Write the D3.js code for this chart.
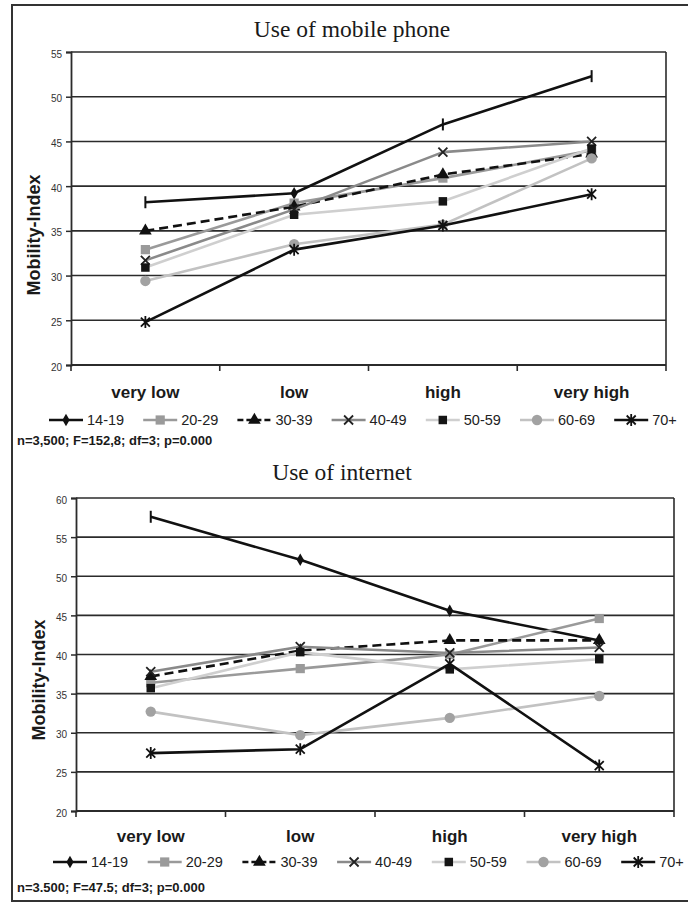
<!DOCTYPE html>
<html>
<head>
<meta charset="utf-8">
<script src="https://cdn.jsdelivr.net/npm/d3@7"></script>
<style>
  html, body { margin: 0; padding: 0; background: #fff; }
  svg { display: block; }
</style>
</head>
<body>
<svg id="chart" width="688" height="903"></svg>
<script>
// Categories (x axis) and age groups (series)
const categories = ["very low", "low", "high", "very high"];
const ageGroups = ["14-19", "20-29", "30-39", "40-49", "50-59", "60-69", "70+"];

// Mobility-Index by intensity of mobile phone use
const phone_14_19 = [38.2, 39.2, 46.9, 52.3];
const phone_20_29 = [32.9, 38.1, 40.9, 44.0];
const phone_30_39 = [35.0, 37.7, 41.3, 43.6];
const phone_40_49 = [31.7, 37.4, 43.8, 45.0];
const phone_50_59 = [30.9, 36.8, 38.3, 44.2];
const phone_60_69 = [29.4, 33.5, 35.7, 43.1];
const phone_70plus = [24.8, 32.9, 35.6, 39.1];

// Mobility-Index by intensity of internet use
const web_14_19 = [57.6, 52.1, 45.6, 41.8];
const web_20_29 = [36.4, 38.2, 40.0, 44.6];
const web_30_39 = [37.2, 40.5, 41.8, 41.8];
const web_40_49 = [37.8, 41.0, 40.2, 40.9];
const web_50_59 = [35.7, 40.3, 38.1, 39.4];
const web_60_69 = [32.7, 29.7, 31.9, 34.7];
const web_70plus = [27.4, 27.9, 38.8, 25.8];

const phoneTicks = [20, 25, 30, 35, 40, 45, 50, 55];
const webTicks = [20, 25, 30, 35, 40, 45, 50, 55, 60];

const phoneTitle = "Use of mobile phone";
const webTitle = "Use of internet";
const phoneNote = "n=3,500; F=152,8; df=3; p=0.000";
const webNote = "n=3.500; F=47.5; df=3;  p=0.000";
const yTitle = "Mobility-Index";

// Per-series look: line colour, dash, marker shape and marker fill
const seriesStyle = [
  { line: "#111", dash: null,  marker: "diamond",  fill: "#111" },
  { line: "#9a9a9a", dash: null, marker: "square", fill: "#9a9a9a" },
  { line: "#111", dash: "9,5", marker: "triangle", fill: "#111" },
  { line: "#8a8a8a", dash: null, marker: "x",      fill: "#222" },
  { line: "#cfcfcf", dash: null, marker: "bsquare", fill: "#151515" },
  { line: "#c2c2c2", dash: null, marker: "circle",  fill: "#a2a2a2" },
  { line: "#111", dash: null,  marker: "star",     fill: "#111" }
];

const svg = d3.select("#chart");
const SANS = "'Liberation Sans', Arial, sans-serif";
const SERIF = "'Liberation Serif', 'Times New Roman', serif";

// outer frame (right edge runs off the page)
svg.append("rect")
  .attr("x", 12).attr("y", 5).attr("width", 700).attr("height", 896)
  .attr("fill", "none").attr("stroke", "#333").attr("stroke-width", 2);

function drawMarker(g, shape, fill) {
  switch (shape) {
    case "diamond":
      g.append("path").attr("d", d3.symbol(d3.symbolDiamond, 45)()).attr("fill", fill);
      break;
    case "bar":
      g.append("line").attr("x1", 0).attr("x2", 0).attr("y1", -6).attr("y2", 6)
        .attr("stroke", fill).attr("stroke-width", 2);
      break;
    case "square":
      g.append("path").attr("d", d3.symbol(d3.symbolSquare, 85)()).attr("fill", fill);
      break;
    case "bsquare":
      g.append("path").attr("d", d3.symbol(d3.symbolSquare, 72)()).attr("fill", fill);
      break;
    case "triangle":
      g.append("path").attr("d", d3.symbol(d3.symbolTriangle, 70)()).attr("fill", fill);
      break;
    case "circle":
      g.append("path").attr("d", d3.symbol(d3.symbolCircle, 85)()).attr("fill", fill);
      break;
    case "x":
      g.append("path").attr("d", "M-4.5,-4.5L4.5,4.5M-4.5,4.5L4.5,-4.5")
        .attr("stroke", fill).attr("stroke-width", 1.8).attr("fill", "none");
      break;
    case "star":
      g.append("path").attr("d", "M-4.5,-4.5L4.5,4.5M-4.5,4.5L4.5,-4.5M0,-6L0,6")
        .attr("stroke", fill).attr("stroke-width", 1.8).attr("fill", "none");
      break;
  }
}

function drawPanel(cfg) {
  const g = svg.append("g");
  const x = d3.scaleBand().domain(categories).range([cfg.x0, cfg.x1]);
  const y = d3.scaleLinear().domain([cfg.ticks[0], cfg.ticks[cfg.ticks.length - 1]]).range([cfg.y1, cfg.y0]);

  // title
  g.append("text").attr("x", cfg.titleX).attr("y", cfg.titleY)
    .attr("text-anchor", "middle").attr("font-family", SERIF)
    .attr("font-size", 23.5).attr("fill", "#1a1a1a").text(cfg.title);

  // horizontal gridlines
  g.selectAll(".grid").data(cfg.ticks.slice(1)).enter().append("line")
    .attr("x1", cfg.x0).attr("x2", cfg.x1)
    .attr("y1", d => y(d)).attr("y2", d => y(d))
    .attr("stroke", "#2b2b2b").attr("stroke-width", 1.6);

  // right border of plot
  g.append("line").attr("x1", cfg.x1).attr("x2", cfg.x1)
    .attr("y1", cfg.y0).attr("y2", cfg.y1)
    .attr("stroke", "#2b2b2b").attr("stroke-width", 1.6);

  // y axis
  const yAxis = d3.axisLeft(y).tickValues(cfg.ticks).tickSize(5).tickPadding(4);
  const ya = g.append("g").attr("transform", `translate(${cfg.x0},0)`).call(yAxis);
  ya.select(".domain").attr("stroke", "#2b2b2b").attr("stroke-width", 1.8);
  ya.selectAll(".tick line").attr("stroke", "#2b2b2b").attr("stroke-width", 1.5);
  ya.selectAll(".tick text").attr("font-family", SANS).attr("font-size", 10)
    .attr("fill", "#333").attr("dy", "0.5em");

  // x axis: ticks at category boundaries
  const bounds = categories.map(c => x(c)).concat([cfg.x1]);
  g.append("line").attr("x1", cfg.x0).attr("x2", cfg.x1)
    .attr("y1", cfg.y1).attr("y2", cfg.y1)
    .attr("stroke", "#2b2b2b").attr("stroke-width", 1.8);
  g.selectAll(".xt").data(bounds).enter().append("line")
    .attr("x1", d => d).attr("x2", d => d)
    .attr("y1", cfg.y1).attr("y2", cfg.y1 + 6)
    .attr("stroke", "#2b2b2b").attr("stroke-width", 1.6);
  g.selectAll(".xl").data(categories).enter().append("text")
    .attr("x", d => x(d) + x.bandwidth() / 2).attr("y", cfg.xLabelY)
    .attr("text-anchor", "middle").attr("font-family", SANS)
    .attr("font-weight", "bold").attr("font-size", 17).attr("fill", "#1a1a1a")
    .text(d => d);

  // y axis title
  g.append("text")
    .attr("transform", `translate(${cfg.yTitleX},${cfg.yTitleY}) rotate(-90)`)
    .attr("text-anchor", "middle").attr("dy", "0.35em")
    .attr("font-family", SANS).attr("font-weight", "bold").attr("font-size", 18)
    .attr("fill", "#1a1a1a").text(yTitle);

  // series
  const line = d3.line().x((d, i) => x(categories[i]) + x.bandwidth() / 2).y(d => y(d));
  cfg.series.forEach((vals, si) => {
    const st = seriesStyle[si];
    const sg = g.append("g");
    sg.append("path").datum(vals).attr("d", line)
      .attr("fill", "none").attr("stroke", st.line).attr("stroke-width", 2.6)
      .attr("stroke-dasharray", st.dash).attr("stroke-linejoin", "round");
    vals.forEach((v, i) => {
      const mg = sg.append("g")
        .attr("transform", `translate(${x(categories[i]) + x.bandwidth() / 2},${y(v)})`);
      const shape = (si === 0 && cfg.firstMarkers) ? cfg.firstMarkers[i] : st.marker;
      drawMarker(mg, shape, st.fill);
    });
  });

  // legend
  ageGroups.forEach((name, i) => {
    const st = seriesStyle[i];
    const lx = cfg.legendX + i * cfg.legendStep;
    const ly = cfg.legendY - 5;
    const lg = g.append("g");
    lg.append("line").attr("x1", lx).attr("x2", lx + 34).attr("y1", ly).attr("y2", ly)
      .attr("stroke", st.line).attr("stroke-width", 2.6)
      .attr("stroke-dasharray", st.dash ? "6,3" : null);
    drawMarker(lg.append("g").attr("transform", `translate(${lx + 17},${ly})`), st.marker, st.fill);
    lg.append("text").attr("x", lx + 38).attr("y", cfg.legendY)
      .attr("font-family", SANS).attr("font-size", 14.5).attr("fill", "#222")
      .text(name);
  });

  // statistics note
  g.append("text").attr("x", 17).attr("y", cfg.noteY)
    .attr("font-family", SANS).attr("font-weight", "bold").attr("font-size", 13)
    .attr("fill", "#1a1a1a").text(cfg.note);
}

drawPanel({
  title: phoneTitle, titleX: 352, titleY: 37,
  x0: 71, x1: 666, y0: 52, y1: 365,
  ticks: phoneTicks,
  series: [phone_14_19, phone_20_29, phone_30_39, phone_40_49, phone_50_59, phone_60_69, phone_70plus],
  firstMarkers: ["bar", "diamond", "bar", "bar"],
  xLabelY: 398, legendX: 49, legendStep: 94.2, legendY: 425,
  yTitleX: 34, yTitleY: 235, noteY: 445, note: phoneNote
});

drawPanel({
  title: webTitle, titleX: 342, titleY: 480,
  x0: 76, x1: 674, y0: 498, y1: 811,
  ticks: webTicks,
  series: [web_14_19, web_20_29, web_30_39, web_40_49, web_50_59, web_60_69, web_70plus],
  firstMarkers: ["bar", "diamond", "diamond", "diamond"],
  xLabelY: 842, legendX: 53, legendStep: 94.7, legendY: 867,
  yTitleX: 39, yTitleY: 680, noteY: 892, note: webNote
});
</script>
</body>
</html>
